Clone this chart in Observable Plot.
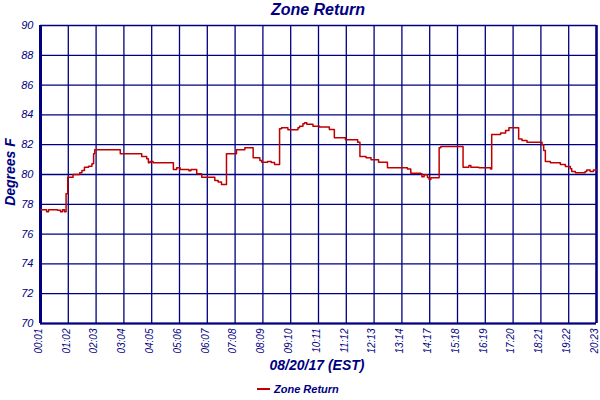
<!DOCTYPE html>
<html>
<head>
<meta charset="utf-8">
<script src="https://cdn.jsdelivr.net/npm/d3@7"></script>
<script src="https://cdn.jsdelivr.net/npm/@observablehq/plot@0.6"></script>
<style>
  body { margin: 0; background: #fff; }
  #wrap { position: relative; width: 600px; height: 400px; font-family: "Liberation Sans", Arial, sans-serif; color: #000080; }
  .t { position: absolute; font-weight: bold; font-style: italic; white-space: nowrap; }
  #title { left: 0; width: 636px; top: 1px; text-align: center; font-size: 16px; }
  #xlab { left: 0; width: 634px; top: 357px; text-align: center; font-size: 14px; }
  #ylab { left: 10px; top: 172px; font-size: 14px; transform: translate(-50%, -50%) rotate(-90deg); }
  #legend { left: 257px; top: 383px; font-size: 11px; display: flex; align-items: center; }
  #legend span.sw { display: inline-block; width: 13px; height: 2px; background: #c00000; margin-right: 4px; }
</style>
</head>
<body>
<div id="wrap">
  <div id="chart"></div>
  <div class="t" id="title">Zone Return</div>
  <div class="t" id="ylab">Degrees F</div>
  <div class="t" id="xlab">08/20/17 (EST)</div>
  <div class="t" id="legend"><span class="sw"></span>Zone Return</div>
</div>
<script>
const tickLabels = ["00:01","01:02","02:03","03:04","04:05","05:06","06:07","07:08","08:09","09:10","10:11","11:12","12:13","13:14","14:17","15:18","16:19","17:20","18:21","19:22","20:23"];
const yTicks = [70,72,74,76,78,80,82,84,86,88,90];
const seriesName = "Zone Return";
// hours elapsed (tick index scale) and temperature in °F
const hours = [0,0.22,0.29,0.61,0.72,0.79,0.86,0.92,0.98,1.17,1.41,1.49,1.58,1.73,1.85,1.91,1.95,2.87,3.64,3.82,3.88,3.94,4.05,4.78,4.90,5.02,5.34,5.41,5.62,5.80,6.27,6.39,6.51,6.69,7.05,7.35,7.65,7.89,7.96,8.17,8.30,8.42,8.60,8.67,8.90,9.26,9.32,9.44,9.50,9.58,9.80,10.04,10.39,10.57,10.97,11.41,11.49,11.71,11.89,12.16,12.48,13.20,13.32,13.68,13.72,13.80,13.92,13.98,14.04,14.28,14.34,14.40,15.20,15.41,15.48,15.77,16.19,16.23,16.55,16.73,16.85,17.14,17.20,17.32,17.50,18.04,18.10,18.16,18.34,18.70,18.88,19.06,19.11,19.24,19.59,19.65,19.77,19.89,20.0];
const temps = [77.63,77.5,77.63,77.6,77.5,77.63,77.5,78.7,79.82,80.0,80.11,80.27,80.49,80.56,80.72,81.39,81.66,81.39,81.21,81.05,80.79,80.87,80.79,80.33,80.45,80.33,80.25,80.33,80.05,79.82,79.6,79.5,79.33,81.39,81.66,81.79,81.12,80.94,80.83,80.87,80.8,80.67,83.07,83.13,83.0,83.13,83.24,83.40,83.47,83.37,83.24,83.18,83.02,82.46,82.33,82.17,81.21,81.12,80.99,80.83,80.45,80.37,80.09,80.05,79.85,79.98,79.8,79.66,79.78,79.78,81.79,81.88,80.49,80.6,80.49,80.45,80.37,82.68,82.78,82.95,83.13,83.13,82.39,82.28,82.17,82.0,81.61,80.87,80.79,80.67,80.54,80.38,80.2,80.11,80.2,80.31,80.2,80.31,80.31];

const data = hours.map((h, i) => ({h, v: temps[i]}));
const navy = "#000080";

const chart = Plot.plot({
  width: 600,
  height: 400,
  marginLeft: 40,
  marginRight: 4,
  marginTop: 25,
  marginBottom: 77,
  style: {fontFamily: "'Liberation Sans', Arial, sans-serif", fontSize: "11px", fontStyle: "italic", color: navy, background: "white"},
  x: {domain: [0, 20], ticks: d3.range(0, 21), tickFormat: i => tickLabels[i]},
  y: {domain: [70, 90], ticks: yTicks},
  marks: [
    Plot.gridX(d3.range(0, 21), {stroke: navy, strokeOpacity: 1, strokeWidth: 1.3}),
    Plot.gridY(yTicks, {stroke: navy, strokeOpacity: 1, strokeWidth: 1.3}),
    Plot.ruleX([0], {stroke: navy, strokeWidth: 3}),
    Plot.ruleX([20], {stroke: navy, strokeWidth: 2.5}),
    Plot.ruleY([70], {stroke: navy, strokeWidth: 2}),
    Plot.axisX(d3.range(0, 21), {tickSize: 0, tickPadding: 5, tickRotate: -90, fontSize: 10, dx: -2, tickFormat: i => tickLabels[i], label: null, fill: navy}),
    Plot.axisY(yTicks, {tickSize: 0, tickPadding: 7, label: null, fill: navy}),
    Plot.line(data, {x: "h", y: "v", curve: "step-after", stroke: "#c00000", strokeWidth: 1.5})
  ]
});
document.getElementById("chart").appendChild(chart);
</script>
</body>
</html>
